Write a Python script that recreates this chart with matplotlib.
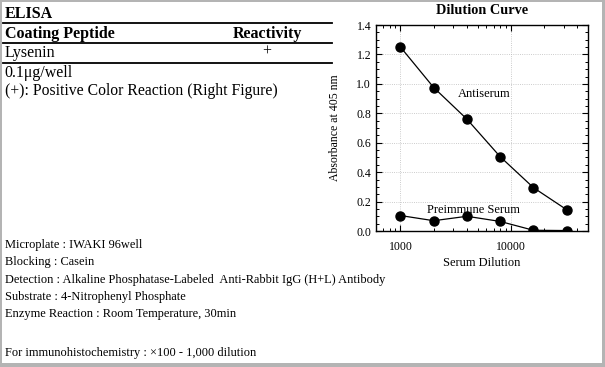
import matplotlib
matplotlib.use("Agg")
import matplotlib.pyplot as plt
from matplotlib.lines import Line2D
from matplotlib.patches import Rectangle
from matplotlib.ticker import FixedLocator, LogLocator, MultipleLocator, NullFormatter

W, H = 605, 367

# data
dilution = [1000, 2000, 4000, 8000, 16000, 32000]
antiserum = [1.25, 0.975, 0.76, 0.505, 0.295, 0.145]
preimmune = [0.105, 0.07, 0.10, 0.065, 0.005, 0.003]
x_ticks = [1000, 10000]
x_ticklabels = ["1000", "10000"]

header = ["Coating Peptide", "Reactivity"]
row = ["Lysenin", "+"]
notes = ["0.1\u03bcg/well", "(+): Positive Color Reaction (Right Figure)"]
conditions = [
    "Microplate : IWAKI 96well",
    "Blocking : Casein",
    "Detection : Alkaline Phosphatase-Labeled  Anti-Rabbit IgG (H+L) Antibody",
    "Substrate : 4-Nitrophenyl Phosphate",
    "Enzyme Reaction : Room Temperature, 30min",
]
footer = "For immunohistochemistry : \u00d7100 - 1,000 dilution"

plt.rcParams['font.family'] = ['Liberation Serif', 'DejaVu Serif']


def fx(px):
    return px / W


def fy(py):
    return 1 - py / H


fig = plt.figure(figsize=(W / 100, H / 100), dpi=100)
fig.patch.set_facecolor('#b4b4b4')
fig.patches.append(Rectangle((fx(2), fy(363)), fx(600), 361 / H,
                             transform=fig.transFigure, facecolor='white',
                             edgecolor='none', zorder=-5))

# left table
fig.text(fx(5), fy(14), "ELISA", fontsize=11.5, fontweight='bold', va='center')
for yy in [23, 43, 63]:
    fig.add_artist(Line2D([fx(3), fx(332)], [fy(yy), fy(yy)], color='black', lw=1.3))
fig.text(fx(5), fy(34), header[0], fontsize=11.5, fontweight='bold', va='center')
fig.text(fx(302), fy(34), header[1], fontsize=11.5, fontweight='bold', va='center', ha='right')
fig.text(fx(5), fy(53), row[0], fontsize=11.5, va='center')
fig.text(fx(267), fy(52), row[1], fontsize=11.5, va='center', ha='center')
fig.text(fx(4), fy(73), notes[0], fontsize=11.5, va='center')
fig.text(fx(5), fy(91), notes[1], fontsize=11.3, va='center')

for i, line in enumerate(conditions):
    fig.text(fx(5), fy(245 + i * 17.3), line, fontsize=8.9, va='center')
fig.text(fx(5), fy(353), footer, fontsize=8.9, va='center')

# dilution curve
ax = fig.add_axes([fx(376), fy(231), fx(588 - 376), (231 - 25) / H])
ax.set_zorder(2)
ax.plot(dilution, antiserum, color='black', lw=0.9, marker='o', ms=6.5)
ax.plot(dilution, preimmune, color='black', lw=0.9, marker='o', ms=6.5)
ax.set_xscale('log')
ax.set_xlim(600, 50000)
ax.set_ylim(0, 1.4)
ax.xaxis.set_major_locator(FixedLocator(x_ticks))
ax.set_xticklabels(x_ticklabels)
ax.xaxis.set_minor_locator(LogLocator(base=10, subs=range(2, 10)))
ax.xaxis.set_minor_formatter(NullFormatter())
ax.yaxis.set_major_locator(MultipleLocator(0.2))
ax.yaxis.set_minor_locator(MultipleLocator(0.05))
ax.yaxis.set_major_formatter(plt.FuncFormatter(lambda v, p: "%.1f" % v))
ax.tick_params(which='both', direction='in', top=True, right=True, labelsize=8.5)
ax.tick_params(which='major', length=4, width=0.8)
ax.tick_params(which='minor', length=2.5, width=0.7)
ax.tick_params(axis='x', pad=7)
ax.grid(True, which='major', color='#bbbbbb', ls=':', lw=0.6)
for s in ax.spines.values():
    s.set_linewidth(1.0)
ax.set_title("Dilution Curve", fontsize=10.3, fontweight='bold', pad=8)
ax.set_xlabel("Serum Dilution", fontsize=9, labelpad=3)
ax.set_ylabel("Absorbance at 405 nm", fontsize=8.5)
ax.yaxis.set_label_coords((341 - 376) / (588 - 376), 0.5)
ax.text(3300, 0.91, "Antiserum", fontsize=9)
ax.text(4600, 0.12, "Preimmune Serum", fontsize=9, ha='center')

fig.savefig("out.png", dpi=100, facecolor=fig.get_facecolor())
